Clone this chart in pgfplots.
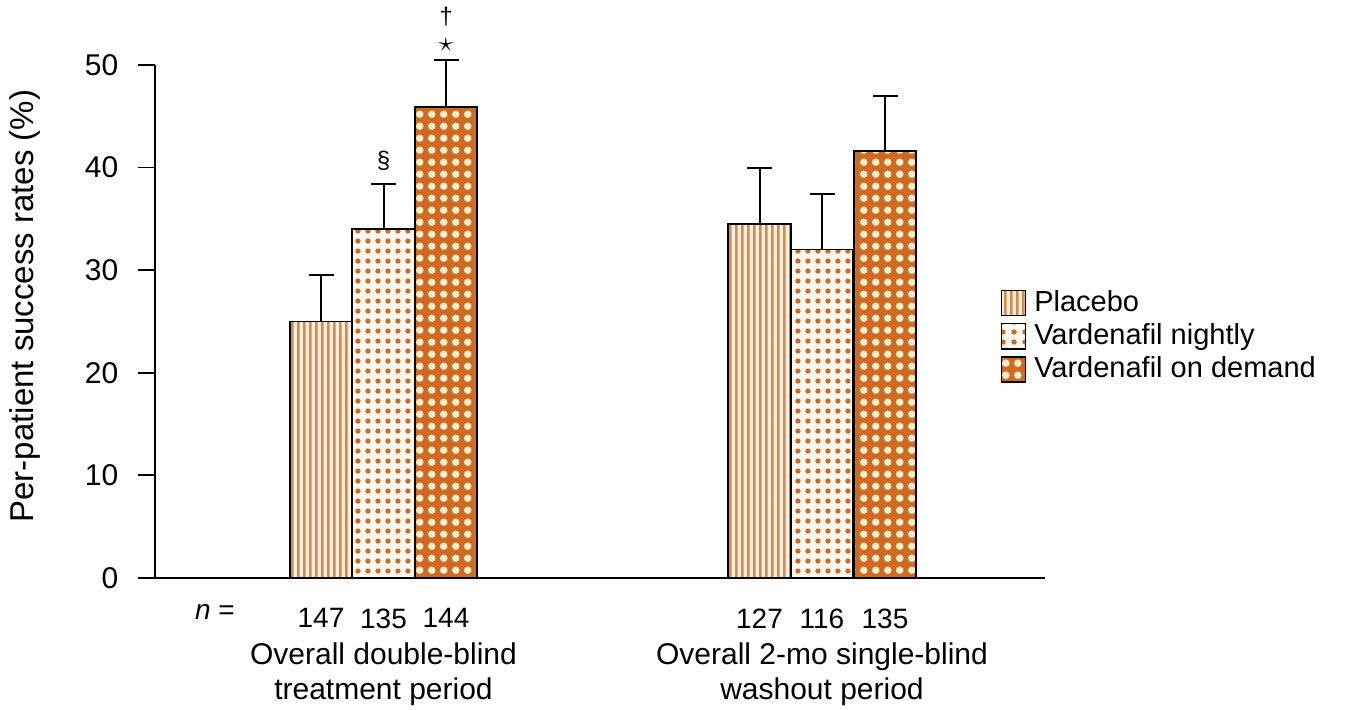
\documentclass[border=0pt]{standalone}
\usepackage{pgfplots}
\pgfplotsset{compat=1.18}
\usepackage{fontspec}
\setmainfont{Liberation Sans}
\usetikzlibrary{patterns.meta}
\definecolor{orng}{RGB}{208,106,32}
\definecolor{stripe}{RGB}{214,136,78}
\definecolor{cream}{RGB}{255,240,220}
\definecolor{pale}{RGB}{255,248,240}
\definecolor{dotlight}{RGB}{255,236,205}
\pgfdeclarepattern{name=vstripes, type=uncolored,
  bottom left={\pgfpoint{0pt}{0pt}}, top right={\pgfpoint{3.1pt}{3.1pt}},
  tile size={\pgfpoint{3.1pt}{3.1pt}},
  code={\pgfpathrectangle{\pgfpoint{0pt}{-0.2pt}}{\pgfpoint{1.5pt}{3.5pt}}\pgfusepath{fill}}}
\pgfdeclarepattern{name=smalldots, type=uncolored,
  bottom left={\pgfpoint{0pt}{0pt}}, top right={\pgfpoint{5.2pt}{5.2pt}},
  tile size={\pgfpoint{5.2pt}{5.2pt}},
  code={\pgfpathcircle{\pgfpoint{2.6pt}{2.6pt}}{1.4pt}\pgfusepath{fill}}}
\pgfdeclarepattern{name=bigdots, type=uncolored,
  bottom left={\pgfpoint{0pt}{0pt}}, top right={\pgfpoint{6.1pt}{6.1pt}},
  tile size={\pgfpoint{6.1pt}{6.1pt}},
  code={\pgfpathcircle{\pgfpoint{3.05pt}{3.05pt}}{2.0pt}\pgfusepath{fill}}}
\begin{document}
\fontsize{14}{17.5}\selectfont
\begin{tikzpicture}
\useasboundingbox (0,0) rectangle (678pt,355pt);
\begin{axis}[
  at={(77.5pt,66pt)}, anchor=south west,
  width=445pt, height=256.5pt, scale only axis,
  xmin=155, xmax=1045, ymin=0, ymax=50,
  axis x line*=bottom, axis y line*=left,
  axis line style={line width=0.9pt, black},
  ytick={0,10,20,30,40,50},
  tick align=outside, major tick length=8.5pt,
  y tick style={line width=0.9pt, black},
  xtick={321,383.5,446,759.5,822,885},
  xticklabels={147,135,144,127,116,135},
  x tick style={draw=none},
  xticklabel style={yshift=-2pt, font=\fontsize{14}{16}\selectfont},
  /pgf/number format/assume math mode=true,
  yticklabel style={xshift=-5pt, font=\fontsize{15}{17}\selectfont},
  ylabel={Per-patient success rates (\%)},
  ylabel style={font=\fontsize{16.5}{19}\selectfont, at={(axis description cs:-0.146,0.53)}, anchor=center},
  clip=false,
  legend style={at={(axis description cs:0.943,0.577)}, anchor=north west, draw=none, fill=none,
    font=\fontsize{14.5}{16}\selectfont, row sep=0pt, cells={anchor=west},
    nodes={inner xsep=4pt}},
  legend image code/.code={\draw[#1, line width=0.8pt] (0pt,-6.3pt) rectangle (12pt,6.3pt);},
  error bars/y dir=plus, error bars/y explicit,
  error bars/error bar style={line width=1pt, black},
  error bars/error mark options={black, line width=1pt, mark size=6.25pt, rotate=90},
]
\addplot[ybar, bar width=62.5, draw=black, line width=0.8pt, fill=cream,
  postaction={pattern=vstripes, pattern color=stripe}]
  coordinates {(321,25.0) +- (0,4.5) (759.5,34.5) +- (0,5.5)};
\addlegendentry{Placebo}
\addplot[ybar, bar width=62.5, draw=black, line width=0.8pt, fill=pale,
  postaction={pattern=smalldots, pattern color=orng}]
  coordinates {(383.5,34.0) +- (0,4.4) (822,32.0) +- (0,5.4)};
\addlegendentry{Vardenafil nightly}
\addplot[ybar, bar width=62.5, draw=black, line width=0.8pt, fill=orng,
  postaction={pattern=bigdots, pattern color=dotlight}]
  coordinates {(446,45.9) +- (0,4.6) (885,41.6) +- (0,5.4)};
\addlegendentry{Vardenafil on demand}
\node[font=\fontsize{12}{14}\selectfont] at (axis cs:383.5,40.7) {\S};
\node at (axis cs:446,52.0) {$\star$};
\node[font=\fontsize{12}{14}\selectfont] at (axis cs:446,54.7) {\dag};
\node at (axis cs:215,-3.3) {\textit{n} =};
\node[align=center, font=\fontsize{15}{17.5}\selectfont] at (axis cs:383.5,-9.4) {Overall double-blind\\treatment period};
\node[align=center, font=\fontsize{15}{17.5}\selectfont] at (axis cs:822,-9.4) {Overall 2-mo single-blind\\washout period};
\end{axis}
\end{tikzpicture}
\end{document}
